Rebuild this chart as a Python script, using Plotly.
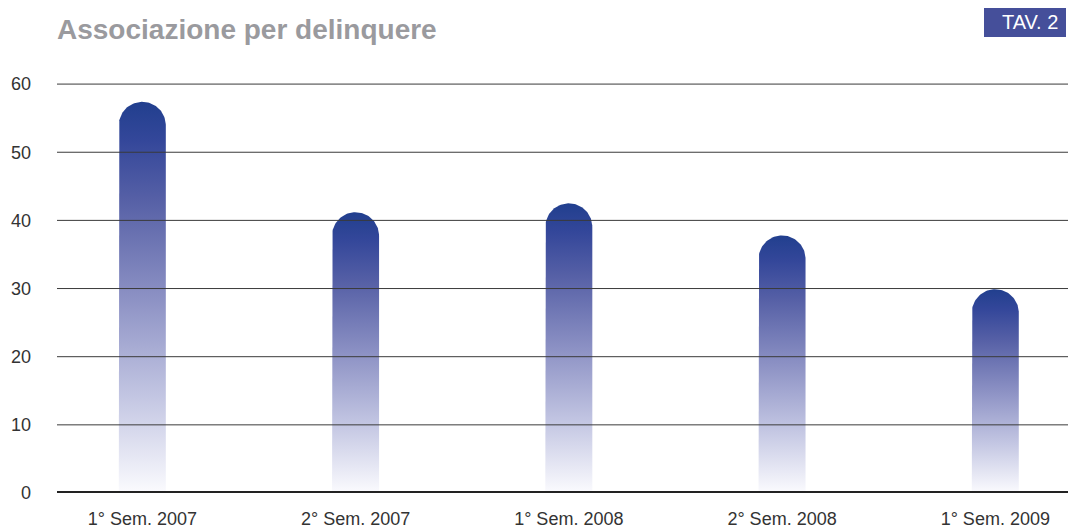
import numpy as np
import plotly.graph_objects as go

categories = ["1° Sem. 2007", "2° Sem. 2007", "1° Sem. 2008", "2° Sem. 2008", "1° Sem. 2009"]
values = [57.4, 41.2, 42.5, 37.8, 29.9]
y_ticks = [0, 10, 20, 30, 40, 50, 60]

# the page body has an 8px margin; the figure is offset accordingly
OFF = 8
W, H = 1076, 528
ml, mr, mt, mb = 57 - OFF, 0, 72, 43
x_range = [-0.40, 4.416]
y_range = [0, 60.6]
pw, ph = W - ml - mr, H - mt - mb
px_x = pw / (x_range[1] - x_range[0])
px_y = ph / (y_range[1] - y_range[0])
r_px = 23.5
rx = r_px / px_x
ry = r_px / px_y

colorscale = [
    [0.0, "#fbfbfe"],
    [0.25, "#c2c5e2"],
    [0.5, "#8c91c4"],
    [0.75, "#5660a6"],
    [0.9, "#34479a"],
    [1.0, "#213f8e"],
]

fig = go.Figure()
for i, v in enumerate(values):
    t = np.linspace(0, np.pi, 60)
    xs = [i - rx, i - rx] + list(i - rx * np.cos(t)) + [i + rx, i + rx]
    ys = [0, v - ry] + list(v - ry + ry * np.sin(t)) + [v - ry, 0]
    fig.add_trace(go.Scatter(
        x=xs, y=ys, mode="lines", fill="toself",
        line=dict(width=0, color="rgba(0,0,0,0)"),
        fillgradient=dict(type="vertical", colorscale=colorscale),
        hoverinfo="skip", showlegend=False,
    ))

shapes = []
for yv in y_ticks:
    shapes.append(dict(
        type="line", xref="paper", yref="y", x0=0, x1=1, y0=yv, y1=yv,
        line=dict(color="#222222" if yv == 0 else "#3a3a3a", width=3.8 if yv == 0 else 1),
        layer="above",
    ))


def fx(p):
    return (p - OFF - ml) / pw


def fy(p):
    return (H - mb - (p - OFF)) / ph


shapes.append(dict(type="rect", xref="paper", yref="paper",
                   x0=fx(984), x1=fx(1066), y0=fy(37), y1=fy(8),
                   fillcolor="#454f9a", line=dict(width=0), layer="above"))

fig.update_layout(
    width=W, height=H,
    margin=dict(l=ml, r=mr, t=mt, b=mb, autoexpand=False),
    paper_bgcolor="white", plot_bgcolor="white",
    font=dict(family="Liberation Sans, Arial, sans-serif", color="#333333", size=18),
    shapes=shapes,
    xaxis=dict(range=x_range, tickvals=list(range(len(categories))), ticktext=categories,
               showgrid=False, zeroline=False, showline=False, ticks="", automargin=False,
               ticklabelstandoff=13,
               tickfont=dict(size=18, color="#333333"), fixedrange=True),
    yaxis=dict(range=y_range, tickvals=y_ticks, showgrid=False, zeroline=False,
               showline=False, ticks="", ticklabelstandoff=25, automargin=False,
               tickfont=dict(size=18, color="#333333"), fixedrange=True),
    annotations=[
        dict(text="<b>Associazione per delinquere</b>", xref="paper", yref="paper",
             x=fx(55), y=fy(29),
             xanchor="left", yanchor="middle", showarrow=False,
             font=dict(size=28, color="#9a9a9e", family="Liberation Sans, Arial, sans-serif")),
        dict(text="TAV. 2", xref="paper", yref="paper",
             x=fx(1030), y=fy(22),
             xanchor="center", yanchor="middle", showarrow=False,
             font=dict(size=20, color="white", family="Liberation Sans, Arial, sans-serif")),
    ],
)

fig.write_html("out.html")
